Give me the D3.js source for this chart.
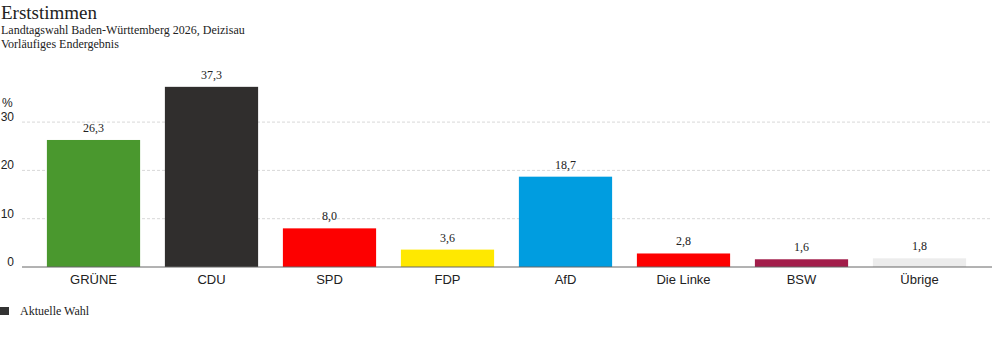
<!DOCTYPE html>
<html>
<head>
<meta charset="utf-8">
<script src="https://cdn.jsdelivr.net/npm/d3@7"></script>
<style>
  body { margin: 0; background: #fff; }
  .title { font-family: "Liberation Serif", "DejaVu Serif", serif; fill: #222; }
  .sans { font-family: "Liberation Sans", Arial, sans-serif; fill: #222; }
</style>
</head>
<body>
<div id="chart"></div>
<script>
// data
const parties = ["GRÜNE", "CDU", "SPD", "FDP", "AfD", "Die Linke", "BSW", "Übrige"];
const values = [26.3, 37.3, 8.0, 3.6, 18.7, 2.8, 1.6, 1.8];
const colors = ["#4a982e", "#302e2d", "#fd0000", "#ffe800", "#009de0", "#fd0000", "#a21d4a", "#ececec"];
const yTicks = [0, 10, 20, 30];

const width = 992, height = 352;
const svg = d3.select("#chart").append("svg")
    .attr("width", width)
    .attr("height", height);

// titles
svg.append("text").attr("class", "title")
    .attr("x", 1).attr("y", 19)
    .style("font-size", "19px")
    .text("Erststimmen");
svg.append("text").attr("class", "title")
    .attr("x", 1).attr("y", 34)
    .style("font-size", "12px")
    .text("Landtagswahl Baden-Württemberg 2026, Deizisau");
svg.append("text").attr("class", "title")
    .attr("x", 1).attr("y", 48)
    .style("font-size", "12px")
    .text("Vorläufiges Endergebnis");

// scales
const x = d3.scaleBand()
    .domain(parties)
    .range([34.5, 978.5])
    .paddingInner(0.21)
    .paddingOuter(0.105);

const y = d3.scaleLinear()
    .domain([0, 10])
    .range([267, 218.7]);

// gridlines
svg.append("g")
    .selectAll("line")
    .data(yTicks.filter(d => d > 0))
    .enter().append("line")
    .attr("x1", 22).attr("x2", 992)
    .attr("y1", d => y(d)).attr("y2", d => y(d))
    .attr("stroke", "#d8d8d8")
    .attr("stroke-dasharray", "3,2");

// y tick labels
svg.append("g")
    .selectAll("text")
    .data(yTicks)
    .enter().append("text")
    .attr("class", "sans")
    .attr("x", 14)
    .attr("y", d => y(d) - 1)
    .attr("text-anchor", "end")
    .style("font-size", "12px")
    .text(d => d);

svg.append("text").attr("class", "sans")
    .attr("x", 2).attr("y", 107)
    .style("font-size", "12px")
    .text("%");

// bars
svg.selectAll(".bar")
    .data(values)
    .enter().append("rect")
    .attr("class", "bar")
    .attr("x", (d, i) => x(parties[i]))
    .attr("y", d => y(d))
    .attr("width", x.bandwidth())
    .attr("height", d => y(0) - y(d))
    .attr("fill", (d, i) => colors[i]);

// value labels
svg.selectAll(".bar-number")
    .data(values)
    .enter().append("text")
    .attr("class", "title")
    .attr("x", (d, i) => x(parties[i]) + x.bandwidth() / 2)
    .attr("y", d => y(d) - 8)
    .attr("text-anchor", "middle")
    .style("font-size", "12px")
    .text(d => d3.format(".1f")(d).replace(".", ","));

// x axis
const xAxis = svg.append("g")
    .attr("transform", `translate(0,${y(0)})`)
    .call(d3.axisBottom(x).tickSize(0).tickSizeOuter(0));
xAxis.select(".domain").remove();
xAxis.append("line")
    .attr("x1", 22).attr("x2", 992)
    .attr("stroke", "#666");
xAxis.selectAll("text")
    .attr("class", "sans")
    .attr("dy", 0)
    .attr("y", 17)
    .style("font-family", "'Liberation Sans', Arial, sans-serif")
    .style("font-size", "13px")
    .attr("fill", "#222");

// legend
svg.append("rect")
    .attr("x", 0).attr("y", 307)
    .attr("width", 9).attr("height", 8)
    .attr("fill", "#333");
svg.append("text").attr("class", "title")
    .attr("x", 20).attr("y", 315)
    .style("font-size", "12px")
    .text("Aktuelle Wahl");
</script>
</body>
</html>
